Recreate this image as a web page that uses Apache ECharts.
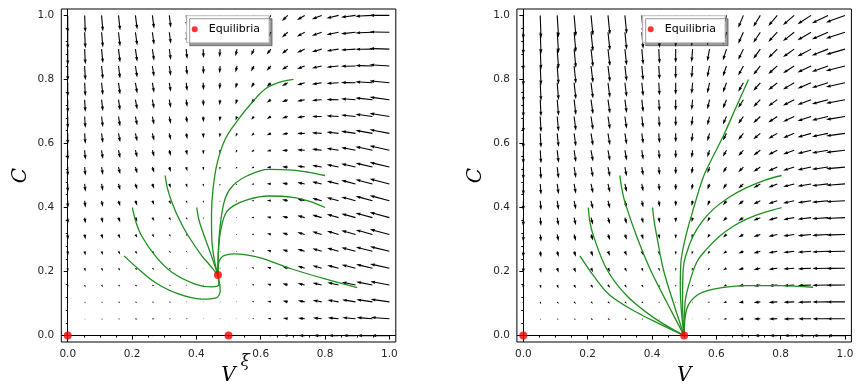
<!DOCTYPE html>
<html>
<head>
<meta charset="utf-8">
<script src="https://cdn.jsdelivr.net/npm/echarts@6/dist/echarts.min.js"></script>
<style>
  html, body { margin: 0; padding: 0; background: #fff; }
  #main { width: 865px; height: 391px; }
</style>
</head>
<body>
<div id="main"></div>
<script>
// grid of the vector field (V and C both sampled at the same 20 points)
const gridPts = [0, 0.0526, 0.1053, 0.1579, 0.2105, 0.2632, 0.3158, 0.3684, 0.4211, 0.4737,
  0.5263, 0.5789, 0.6316, 0.6842, 0.7368, 0.7895, 0.8421, 0.8947, 0.9474, 1];

const majorTicks = [0, 0.2, 0.4, 0.6, 0.8, 1];
const xMinorTicks = [0.05, 0.1, 0.15, 0.25, 0.3, 0.35, 0.45, 0.5, 0.55, 0.65, 0.7, 0.75, 0.85, 0.9, 0.95];
const yMinorTicks = [0.04, 0.08, 0.12, 0.16, 0.24, 0.28, 0.32, 0.36, 0.44, 0.48, 0.52, 0.56,
  0.64, 0.68, 0.72, 0.76, 0.84, 0.88, 0.92, 0.96];

// left panel, V component of each arrow (rows = C from 0 up, cols = V from 0 right)
const leftU = [
  [0, 0.8, 1.5, 1.9, 2.2, 2.2, 2.1, 1.7, 1.2, 0.4, -0.5, -1.6, -3.0, -4.5, -6.3, -8.2, -10.4, -12.7, -15.3, -18.0],
  [0, 0.8, 1.4, 1.9, 2.1, 2.1, 1.9, 1.6, 1.0, 0.2, -0.8, -1.9, -3.3, -4.9, -6.7, -8.6, -10.8, -13.2, -15.7, -18.5],
  [0, 0.8, 1.4, 1.8, 2.0, 2.0, 1.8, 1.4, 0.8, 0.1, -0.9, -2.1, -3.5, -5.1, -6.9, -8.9, -11.1, -13.5, -16.1, -18.8],
  [0, 0.8, 1.4, 1.8, 2.0, 2.0, 1.8, 1.3, 0.7, -0.1, -1.1, -2.3, -3.7, -5.3, -7.1, -9.1, -11.3, -13.7, -16.3, -19.1],
  [0, 0.8, 1.4, 1.7, 1.9, 1.9, 1.7, 1.3, 0.7, -0.1, -1.2, -2.4, -3.8, -5.4, -7.2, -9.2, -11.4, -13.8, -16.4, -19.3],
  [0, 0.8, 1.3, 1.7, 1.9, 1.9, 1.7, 1.2, 0.6, -0.2, -1.2, -2.4, -3.9, -5.5, -7.3, -9.3, -11.5, -14.0, -16.6, -19.4],
  [0, 0.8, 1.3, 1.7, 1.9, 1.9, 1.6, 1.2, 0.6, -0.3, -1.3, -2.5, -3.9, -5.6, -7.4, -9.4, -11.6, -14.1, -16.7, -19.5],
  [0, 0.8, 1.3, 1.7, 1.9, 1.8, 1.6, 1.2, 0.5, -0.3, -1.3, -2.6, -4.0, -5.6, -7.4, -9.5, -11.7, -14.1, -16.8, -19.6],
  [0, 0.8, 1.3, 1.7, 1.8, 1.8, 1.6, 1.1, 0.5, -0.3, -1.4, -2.6, -4.0, -5.7, -7.5, -9.5, -11.8, -14.2, -16.8, -19.7],
  [0, 0.8, 1.3, 1.7, 1.8, 1.8, 1.6, 1.1, 0.5, -0.4, -1.4, -2.6, -4.1, -5.7, -7.5, -9.6, -11.8, -14.3, -16.9, -19.7],
  [0, 0.8, 1.3, 1.7, 1.8, 1.8, 1.5, 1.1, 0.5, -0.4, -1.4, -2.7, -4.1, -5.7, -7.6, -9.6, -11.9, -14.3, -16.9, -19.8],
  [0, 0.8, 1.3, 1.7, 1.8, 1.8, 1.5, 1.1, 0.4, -0.4, -1.5, -2.7, -4.1, -5.8, -7.6, -9.7, -11.9, -14.3, -17.0, -19.8],
  [0, 0.7, 1.3, 1.7, 1.8, 1.8, 1.5, 1.1, 0.4, -0.4, -1.5, -2.7, -4.2, -5.8, -7.6, -9.7, -11.9, -14.4, -17.0, -19.9],
  [0, 0.7, 1.3, 1.6, 1.8, 1.7, 1.5, 1.0, 0.4, -0.4, -1.5, -2.7, -4.2, -5.8, -7.7, -9.7, -12.0, -14.4, -17.0, -19.9],
  [0, 0.7, 1.3, 1.6, 1.8, 1.7, 1.5, 1.0, 0.4, -0.5, -1.5, -2.8, -4.2, -5.9, -7.7, -9.7, -12.0, -14.4, -17.1, -19.9],
  [0, 0.7, 1.3, 1.6, 1.8, 1.7, 1.5, 1.0, 0.4, -0.5, -1.5, -2.8, -4.2, -5.9, -7.7, -9.8, -12.0, -14.5, -17.1, -19.9],
  [0, 0.7, 1.3, 1.6, 1.8, 1.7, 1.5, 1.0, 0.4, -0.5, -1.5, -2.8, -4.2, -5.9, -7.7, -9.8, -12.0, -14.5, -17.1, -20.0],
  [0, 0.7, 1.3, 1.6, 1.8, 1.7, 1.5, 1.0, 0.4, -0.5, -1.5, -2.8, -4.3, -5.9, -7.8, -9.8, -12.0, -14.5, -17.1, -20.0],
  [0, 0.7, 1.3, 1.6, 1.8, 1.7, 1.5, 1.0, 0.3, -0.5, -1.6, -2.8, -4.3, -5.9, -7.8, -9.8, -12.1, -14.5, -17.2, -20.0],
  [0, 0.7, 1.3, 1.6, 1.8, 1.7, 1.5, 1.0, 0.3, -0.5, -1.6, -2.8, -4.3, -5.9, -7.8, -9.8, -12.1, -14.5, -17.2, -20.0]
];

// left panel, C component
const leftW = [
  [0, 0, 0, 0, 0, 0, 0, 0, 0, 0, 0, 0, 0, 0, 0, 0, 0, 0, 0, 0],
  [-0.9, -0.8, -0.7, -0.6, -0.4, -0.3, -0.2, -0.1, 0.1, 0.2, 0.3, 0.4, 0.6, 0.7, 0.8, 0.9, 1.1, 1.2, 1.3, 1.4],
  [-1.9, -1.7, -1.4, -1.2, -0.9, -0.7, -0.5, -0.2, 0.0, 0.3, 0.5, 0.7, 1.0, 1.2, 1.4, 1.7, 1.9, 2.2, 2.4, 2.6],
  [-2.8, -2.5, -2.2, -1.8, -1.5, -1.2, -0.8, -0.5, -0.1, 0.2, 0.5, 0.9, 1.2, 1.6, 1.9, 2.2, 2.6, 2.9, 3.3, 3.6],
  [-3.8, -3.4, -2.9, -2.5, -2.1, -1.7, -1.2, -0.8, -0.4, 0.1, 0.5, 0.9, 1.3, 1.8, 2.2, 2.6, 3.0, 3.5, 3.9, 4.3],
  [-4.7, -4.2, -3.7, -3.2, -2.7, -2.2, -1.7, -1.2, -0.7, -0.2, 0.3, 0.8, 1.3, 1.8, 2.3, 2.8, 3.3, 3.8, 4.3, 4.8],
  [-5.7, -5.1, -4.5, -4.0, -3.4, -2.8, -2.3, -1.7, -1.1, -0.6, 0.0, 0.6, 1.2, 1.7, 2.3, 2.9, 3.5, 4.0, 4.6, 5.2],
  [-6.6, -6.0, -5.4, -4.8, -4.1, -3.5, -2.9, -2.2, -1.6, -1.0, -0.4, 0.3, 0.9, 1.5, 2.2, 2.8, 3.4, 4.0, 4.7, 5.3],
  [-7.6, -6.9, -6.2, -5.6, -4.9, -4.2, -3.5, -2.8, -2.2, -1.5, -0.8, -0.1, 0.5, 1.2, 1.9, 2.6, 3.2, 3.9, 4.6, 5.3],
  [-8.5, -7.8, -7.1, -6.4, -5.7, -4.9, -4.2, -3.5, -2.8, -2.1, -1.4, -0.6, 0.1, 0.8, 1.5, 2.2, 2.9, 3.7, 4.4, 5.1],
  [-9.5, -8.7, -8.0, -7.2, -6.5, -5.7, -5.0, -4.2, -3.5, -2.7, -2.0, -1.2, -0.5, 0.3, 1.0, 1.8, 2.5, 3.3, 4.0, 4.8],
  [-10.4, -9.6, -8.9, -8.1, -7.3, -6.5, -5.8, -5.0, -4.2, -3.4, -2.6, -1.9, -1.1, -0.3, 0.5, 1.2, 2.0, 2.8, 3.6, 4.4],
  [-11.4, -10.6, -9.8, -9.0, -8.2, -7.4, -6.6, -5.8, -5.0, -4.2, -3.4, -2.6, -1.8, -1.0, -0.2, 0.6, 1.4, 2.2, 3.0, 3.8],
  [-12.3, -11.5, -10.7, -9.9, -9.0, -8.2, -7.4, -6.6, -5.8, -4.9, -4.1, -3.3, -2.5, -1.7, -0.9, 0.0, 0.8, 1.6, 2.4, 3.2],
  [-13.3, -12.4, -11.6, -10.8, -9.9, -9.1, -8.3, -7.4, -6.6, -5.7, -4.9, -4.1, -3.2, -2.4, -1.6, -0.7, 0.1, 0.9, 1.8, 2.6],
  [-14.2, -13.4, -12.5, -11.7, -10.8, -10.0, -9.1, -8.3, -7.4, -6.6, -5.7, -4.9, -4.0, -3.2, -2.3, -1.5, -0.6, 0.3, 1.1, 2.0],
  [-15.2, -14.3, -13.4, -12.6, -11.7, -10.8, -10.0, -9.1, -8.2, -7.4, -6.5, -5.6, -4.8, -3.9, -3.0, -2.2, -1.3, -0.4, 0.5, 1.3],
  [-16.1, -15.2, -14.3, -13.4, -12.6, -11.7, -10.8, -9.9, -9.0, -8.1, -7.2, -6.4, -5.5, -4.6, -3.7, -2.8, -1.9, -1.0, -0.2, 0.7],
  [-17.1, -16.1, -15.2, -14.3, -13.4, -12.5, -11.6, -10.7, -9.8, -8.9, -7.9, -7.0, -6.1, -5.2, -4.3, -3.4, -2.5, -1.6, -0.7, 0.3],
  [-18.0, -17.1, -16.1, -15.2, -14.2, -13.3, -12.3, -11.4, -10.4, -9.5, -8.5, -7.6, -6.6, -5.7, -4.7, -3.8, -2.8, -1.9, -0.9, 0.0]
];

// right panel, V component
const rightU = [
  [0, 0.8, 1.5, 1.9, 2.2, 2.2, 2.1, 1.7, 1.2, 0.4, -0.5, -1.6, -3.0, -4.5, -6.3, -8.2, -10.4, -12.7, -15.3, -18.0],
  [0, 0.8, 1.5, 1.9, 2.1, 2.2, 2.0, 1.7, 1.1, 0.3, -0.6, -1.8, -3.1, -4.7, -6.5, -8.4, -10.6, -12.9, -15.5, -18.3],
  [0, 0.8, 1.5, 1.9, 2.1, 2.1, 2.0, 1.6, 1.0, 0.3, -0.7, -1.9, -3.3, -4.8, -6.6, -8.6, -10.7, -13.1, -15.7, -18.4],
  [0, 0.8, 1.4, 1.9, 2.1, 2.1, 1.9, 1.6, 1.0, 0.2, -0.8, -2.0, -3.3, -4.9, -6.7, -8.6, -10.8, -13.2, -15.8, -18.5],
  [0, 0.8, 1.4, 1.8, 2.1, 2.1, 1.9, 1.5, 0.9, 0.2, -0.8, -2.0, -3.4, -5.0, -6.7, -8.7, -10.9, -13.3, -15.8, -18.6],
  [0, 0.8, 1.4, 1.8, 2.0, 2.1, 1.9, 1.5, 0.9, 0.1, -0.9, -2.0, -3.4, -5.0, -6.8, -8.8, -10.9, -13.3, -15.9, -18.7],
  [0, 0.8, 1.4, 1.8, 2.0, 2.1, 1.9, 1.5, 0.9, 0.1, -0.9, -2.1, -3.5, -5.0, -6.8, -8.8, -11.0, -13.4, -16.0, -18.7],
  [0, 0.8, 1.4, 1.8, 2.0, 2.0, 1.8, 1.5, 0.9, 0.1, -0.9, -2.1, -3.5, -5.1, -6.9, -8.8, -11.0, -13.4, -16.0, -18.8],
  [0, 0.8, 1.4, 1.8, 2.0, 2.0, 1.8, 1.4, 0.9, 0.1, -0.9, -2.1, -3.5, -5.1, -6.9, -8.9, -11.1, -13.4, -16.0, -18.8],
  [0, 0.8, 1.4, 1.8, 2.0, 2.0, 1.8, 1.4, 0.8, 0.0, -0.9, -2.1, -3.5, -5.1, -6.9, -8.9, -11.1, -13.5, -16.1, -18.8],
  [0, 0.8, 1.4, 1.8, 2.0, 2.0, 1.8, 1.4, 0.8, 0.0, -1.0, -2.1, -3.5, -5.1, -6.9, -8.9, -11.1, -13.5, -16.1, -18.9],
  [0, 0.8, 1.4, 1.8, 2.0, 2.0, 1.8, 1.4, 0.8, 0.0, -1.0, -2.2, -3.6, -5.1, -6.9, -8.9, -11.1, -13.5, -16.1, -18.9],
  [0, 0.8, 1.4, 1.8, 2.0, 2.0, 1.8, 1.4, 0.8, 0.0, -1.0, -2.2, -3.6, -5.2, -7.0, -8.9, -11.1, -13.5, -16.1, -18.9],
  [0, 0.8, 1.4, 1.8, 2.0, 2.0, 1.8, 1.4, 0.8, 0.0, -1.0, -2.2, -3.6, -5.2, -7.0, -9.0, -11.2, -13.6, -16.1, -18.9],
  [0, 0.8, 1.4, 1.8, 2.0, 2.0, 1.8, 1.4, 0.8, 0.0, -1.0, -2.2, -3.6, -5.2, -7.0, -9.0, -11.2, -13.6, -16.2, -18.9],
  [0, 0.8, 1.4, 1.8, 2.0, 2.0, 1.8, 1.4, 0.8, 0.0, -1.0, -2.2, -3.6, -5.2, -7.0, -9.0, -11.2, -13.6, -16.2, -19.0],
  [0, 0.8, 1.4, 1.8, 2.0, 2.0, 1.8, 1.4, 0.8, 0.0, -1.0, -2.2, -3.6, -5.2, -7.0, -9.0, -11.2, -13.6, -16.2, -19.0],
  [0, 0.8, 1.4, 1.8, 2.0, 2.0, 1.8, 1.4, 0.8, 0.0, -1.0, -2.2, -3.6, -5.2, -7.0, -9.0, -11.2, -13.6, -16.2, -19.0],
  [0, 0.8, 1.4, 1.8, 2.0, 2.0, 1.8, 1.4, 0.8, 0.0, -1.0, -2.2, -3.6, -5.2, -7.0, -9.0, -11.2, -13.6, -16.2, -19.0],
  [0, 0.8, 1.4, 1.8, 2.0, 2.0, 1.8, 1.4, 0.8, 0.0, -1.0, -2.2, -3.6, -5.2, -7.0, -9.0, -11.2, -13.6, -16.2, -19.0]
];

// right panel, C component
const rightW = [
  [0, 0, 0, 0, 0, 0, 0, 0, 0, 0, 0, 0, 0, 0, 0, 0, 0, 0, 0, 0],
  [-1.3, -1.2, -1.1, -1.1, -1.0, -0.9, -0.9, -0.8, -0.7, -0.7, -0.6, -0.5, -0.5, -0.4, -0.3, -0.3, -0.2, -0.1, -0.1, 0.0],
  [-2.5, -2.4, -2.3, -2.1, -2.0, -1.9, -1.7, -1.6, -1.5, -1.3, -1.2, -1.1, -0.9, -0.8, -0.7, -0.5, -0.4, -0.3, -0.1, 0.0],
  [-3.8, -3.6, -3.4, -3.2, -3.0, -2.8, -2.6, -2.4, -2.2, -2.0, -1.8, -1.6, -1.4, -1.2, -1.0, -0.8, -0.7, -0.5, -0.3, -0.1],
  [-5.1, -4.8, -4.5, -4.3, -4.0, -3.8, -3.5, -3.3, -3.0, -2.7, -2.5, -2.2, -2.0, -1.7, -1.5, -1.2, -0.9, -0.7, -0.4, -0.2],
  [-6.3, -6.0, -5.7, -5.4, -5.1, -4.7, -4.4, -4.1, -3.8, -3.5, -3.2, -2.9, -2.5, -2.2, -1.9, -1.6, -1.3, -1.0, -0.6, -0.3],
  [-7.6, -7.2, -6.8, -6.5, -6.1, -5.7, -5.3, -5.0, -4.6, -4.2, -3.9, -3.5, -3.1, -2.8, -2.4, -2.0, -1.6, -1.3, -0.9, -0.5],
  [-8.8, -8.4, -8.0, -7.6, -7.1, -6.7, -6.3, -5.9, -5.4, -5.0, -4.6, -4.2, -3.7, -3.3, -2.9, -2.5, -2.0, -1.6, -1.2, -0.8],
  [-10.1, -9.6, -9.2, -8.7, -8.2, -7.7, -7.2, -6.8, -6.3, -5.8, -5.3, -4.9, -4.4, -3.9, -3.4, -3.0, -2.5, -2.0, -1.5, -1.0],
  [-11.4, -10.8, -10.3, -9.8, -9.3, -8.7, -8.2, -7.7, -7.2, -6.6, -6.1, -5.6, -5.1, -4.5, -4.0, -3.5, -2.9, -2.4, -1.9, -1.4],
  [-12.6, -12.1, -11.5, -10.9, -10.3, -9.8, -9.2, -8.6, -8.0, -7.5, -6.9, -6.3, -5.8, -5.2, -4.6, -4.0, -3.5, -2.9, -2.3, -1.7],
  [-13.9, -13.3, -12.7, -12.0, -11.4, -10.8, -10.2, -9.6, -9.0, -8.3, -7.7, -7.1, -6.5, -5.9, -5.2, -4.6, -4.0, -3.4, -2.8, -2.2],
  [-15.2, -14.5, -13.8, -13.2, -12.5, -11.9, -11.2, -10.5, -9.9, -9.2, -8.6, -7.9, -7.2, -6.6, -5.9, -5.3, -4.6, -3.9, -3.3, -2.6],
  [-16.4, -15.7, -15.0, -14.3, -13.6, -12.9, -12.2, -11.5, -10.8, -10.1, -9.4, -8.7, -8.0, -7.3, -6.6, -5.9, -5.2, -4.5, -3.8, -3.1],
  [-17.7, -16.9, -16.2, -15.5, -14.7, -14.0, -13.3, -12.5, -11.8, -11.0, -10.3, -9.6, -8.8, -8.1, -7.3, -6.6, -5.9, -5.1, -4.4, -3.6],
  [-18.9, -18.2, -17.4, -16.6, -15.8, -15.1, -14.3, -13.5, -12.8, -12.0, -11.2, -10.4, -9.7, -8.9, -8.1, -7.3, -6.6, -5.8, -5.0, -4.2],
  [-20.2, -19.4, -18.6, -17.8, -17.0, -16.2, -15.4, -14.6, -13.7, -12.9, -12.1, -11.3, -10.5, -9.7, -8.9, -8.1, -7.3, -6.5, -5.7, -4.9],
  [-21.5, -20.6, -19.8, -19.0, -18.1, -17.3, -16.4, -15.6, -14.8, -13.9, -13.1, -12.2, -11.4, -10.6, -9.7, -8.9, -8.0, -7.2, -6.4, -5.5],
  [-22.7, -21.9, -21.0, -20.1, -19.3, -18.4, -17.5, -16.7, -15.8, -14.9, -14.1, -13.2, -12.3, -11.5, -10.6, -9.7, -8.9, -8.0, -7.1, -6.2],
  [-24.0, -23.1, -22.2, -21.3, -20.4, -19.5, -18.6, -17.7, -16.8, -15.9, -15.1, -14.2, -13.3, -12.4, -11.5, -10.6, -9.7, -8.8, -7.9, -7.0]
];

const leftEquilibria = [[0, 0], [0.5, 0], [0.467, 0.189]];
const rightEquilibria = [[0, 0], [0.5, 0]];

// solution curves, [V, C] points
const leftCurves = [
  [[0.702, 0.8], [0.655, 0.79], [0.614, 0.77], [0.573, 0.728], [0.531, 0.676], [0.49, 0.614], [0.465, 0.54], [0.452, 0.46], [0.447, 0.38], [0.448, 0.3], [0.456, 0.235], [0.467, 0.189]],
  [[0.8, 0.5], [0.75, 0.51], [0.7, 0.517], [0.624, 0.519], [0.56, 0.5], [0.515, 0.47], [0.49, 0.43], [0.476, 0.36], [0.469, 0.28], [0.467, 0.189]],
  [[0.8, 0.4], [0.75, 0.42], [0.7, 0.432], [0.624, 0.436], [0.56, 0.425], [0.515, 0.405], [0.49, 0.38], [0.474, 0.32], [0.468, 0.25], [0.467, 0.189]],
  [[0.9, 0.15], [0.8, 0.177], [0.697, 0.208], [0.593, 0.244], [0.52, 0.255], [0.49, 0.251], [0.476, 0.242], [0.469, 0.225], [0.467, 0.189]],
  [[0.303, 0.5], [0.31, 0.46], [0.324, 0.416], [0.348, 0.36], [0.375, 0.311], [0.417, 0.249], [0.44, 0.222], [0.458, 0.2], [0.467, 0.189]],
  [[0.201, 0.4], [0.212, 0.355], [0.23, 0.311], [0.272, 0.249], [0.324, 0.198], [0.396, 0.161], [0.448, 0.152], [0.47, 0.16], [0.467, 0.189]],
  [[0.175, 0.249], [0.22, 0.208], [0.272, 0.166], [0.344, 0.13], [0.417, 0.114], [0.462, 0.118], [0.474, 0.14], [0.467, 0.189]],
  [[0.401, 0.4], [0.407, 0.365], [0.417, 0.332], [0.443, 0.26], [0.467, 0.189]]
];

const rightCurves = [
  [[0.7, 0.8], [0.66, 0.71], [0.622, 0.624], [0.585, 0.55], [0.559, 0.494], [0.53, 0.4], [0.505, 0.31], [0.49, 0.229], [0.488, 0.15], [0.492, 0.07], [0.5, 0]],
  [[0.803, 0.5], [0.75, 0.485], [0.694, 0.462], [0.64, 0.432], [0.591, 0.395], [0.555, 0.355], [0.528, 0.311], [0.505, 0.25], [0.497, 0.208], [0.495, 0.1], [0.5, 0]],
  [[0.803, 0.4], [0.75, 0.385], [0.694, 0.364], [0.65, 0.34], [0.611, 0.311], [0.57, 0.27], [0.539, 0.229], [0.515, 0.16], [0.503, 0.104], [0.5, 0]],
  [[0.901, 0.151], [0.798, 0.156], [0.694, 0.156], [0.591, 0.145], [0.539, 0.125], [0.508, 0.083], [0.5, 0]],
  [[0.3, 0.5], [0.306, 0.46], [0.316, 0.416], [0.352, 0.311], [0.394, 0.208], [0.446, 0.104], [0.5, 0]],
  [[0.202, 0.4], [0.207, 0.355], [0.218, 0.311], [0.259, 0.208], [0.321, 0.125], [0.404, 0.057], [0.5, 0]],
  [[0.176, 0.249], [0.218, 0.187], [0.27, 0.125], [0.352, 0.073], [0.425, 0.036], [0.5, 0]],
  [[0.402, 0.4], [0.407, 0.355], [0.415, 0.311], [0.435, 0.208], [0.466, 0.104], [0.5, 0]]
];

const fieldScale = 1 / 321.5; // arrow units -> axis units

function quiverData(U, W) {
  const out = [];
  for (let j = 0; j < gridPts.length; j++) {
    for (let i = 0; i < gridPts.length; i++) {
      out.push([gridPts[i], gridPts[j], U[j][i], W[j][i]]);
    }
  }
  return out;
}

// matplotlib-like arrow: tail at the grid point, 1px shaft, 3px wide head
function renderArrow(params, api) {
  const v = api.value(0), c = api.value(1);
  const p0 = api.coord([v, c]);
  const p1 = api.coord([v + api.value(2) * fieldScale, c + api.value(3) * fieldScale]);
  const dx = p1[0] - p0[0], dy = p1[1] - p0[1];
  const len = Math.hypot(dx, dy);
  if (len < 0.8) {
    return { type: 'circle', shape: { cx: p0[0], cy: p0[1], r: 0.45 }, style: { fill: '#000' } };
  }
  let pts;
  if (len >= 5) {
    pts = [[0, -0.55], [len - 4.5, -0.55], [len - 5, -1.6], [len, 0], [len - 5, 1.6], [len - 4.5, 0.55], [0, 0.55]];
  } else {
    const f = len / 5;
    pts = [[0, -0.55], [0.5, -0.55], [0, -1.6], [5, 0], [0, 1.6], [0.5, 0.55], [0, 0.55]].map(p => [p[0] * f, p[1] * f]);
  }
  const cs = dx / len, sn = dy / len;
  const points = pts.map(p => [p0[0] + p[0] * cs - p[1] * sn, p0[1] + p[0] * sn + p[1] * cs]);
  return { type: 'polygon', shape: { points }, style: { fill: '#000' } };
}

const tickFont = { fontFamily: 'DejaVu Sans', fontSize: 10.5, color: '#262626' };
const nameFont = { fontFamily: 'DejaVu Serif', fontStyle: 'italic', fontSize: 20, color: '#000' };

function axisPair(gridIndex, isX) {
  const common = {
    gridIndex, type: 'value', min: -0.02, max: 1.02,
    position: isX ? 'bottom' : 'left',
    axisLine: { show: false }, splitLine: { show: false }
  };
  return [
    Object.assign({}, common, {
      name: isX ? 'V' : 'C', nameLocation: 'middle', nameGap: isX ? 24 : 31,
      nameTextStyle: nameFont,
      axisTick: { customValues: majorTicks, length: 4, lineStyle: { color: '#000', width: 1 } },
      axisLabel: { customValues: majorTicks, formatter: v => v.toFixed(1), margin: 7, ...tickFont }
    }),
    Object.assign({}, common, {
      axisTick: { customValues: isX ? xMinorTicks : yMinorTicks, length: 2, lineStyle: { color: '#000', width: 1 } },
      axisLabel: { show: false }
    })
  ];
}

const grids = [
  { left: 61.3, top: 9, width: 334.5, height: 334.5 },
  { left: 516.9, top: 9, width: 334.5, height: 334.5 }
];

const series = [];
[[leftU, leftW, leftCurves, leftEquilibria], [rightU, rightW, rightCurves, rightEquilibria]].forEach((panel, p) => {
  const ax = { xAxisIndex: 2 * p, yAxisIndex: 2 * p };
  // axes through the origin
  series.push(Object.assign({
    type: 'line', data: [], silent: true, z: 1,
    markLine: {
      silent: true, symbol: ['none', 'none'], animation: false,
      label: { show: false },
      lineStyle: { color: '#000', width: 1, type: 'solid' },
      data: [{ yAxis: 0 }, { xAxis: 0 }]
    }
  }, ax));
  series.push(Object.assign({
    type: 'custom', renderItem: renderArrow, data: quiverData(panel[0], panel[1]),
    clip: true, silent: true, z: 2
  }, ax));
  panel[2].forEach(curve => {
    series.push(Object.assign({
      type: 'line', data: curve, showSymbol: false, smooth: 0.35, silent: true, z: 3,
      lineStyle: { color: '#1f8f1f', width: 1.3 }
    }, ax));
  });
  series.push(Object.assign({
    type: 'scatter', name: 'Equilibria', data: panel[3], symbolSize: 8, z: 5,
    itemStyle: { color: '#ff0000' }
  }, ax));
});

const legendBox = {
  top: 15.7, orient: 'horizontal', selectedMode: false,
  data: [{ name: 'Equilibria', icon: 'circle' }],
  itemWidth: 6, itemHeight: 6, itemGap: 0,
  padding: [8, 9, 8, 5],
  backgroundColor: '#fff', borderColor: '#bdbdbd', borderWidth: 1,
  shadowColor: 'rgba(0,0,0,0.4)', shadowBlur: 0, shadowOffsetX: 3, shadowOffsetY: 3,
  textStyle: { fontFamily: 'DejaVu Sans', fontSize: 11, color: '#000', padding: [0, 0, 0, 6] }
};

const chart = echarts.init(document.getElementById('main'), null, { renderer: 'canvas' });
chart.setOption({
  animation: false,
  backgroundColor: '#fff',
  grid: grids.map(g => Object.assign({ show: true, borderColor: '#000', borderWidth: 1, backgroundColor: 'transparent' }, g)),
  xAxis: [].concat(axisPair(0, true), axisPair(1, true)),
  yAxis: [].concat(axisPair(0, false), axisPair(1, false)),
  legend: [
    Object.assign({ left: 186.7 }, legendBox),
    Object.assign({ left: 642.7 }, legendBox)
  ],
  series: series
});

// the xi mark under the left V axis
const xiPos = chart.convertToPixel({ xAxisIndex: 0, yAxisIndex: 0 }, [0.5515, -0.082]);
chart.setOption({
  graphic: [{
    type: 'text', x: xiPos[0], y: xiPos[1],
    style: { text: 'ξ', font: 'italic 17px "DejaVu Serif"', fill: '#111', align: 'center', verticalAlign: 'middle' }
  }]
});
</script>
</body>
</html>
